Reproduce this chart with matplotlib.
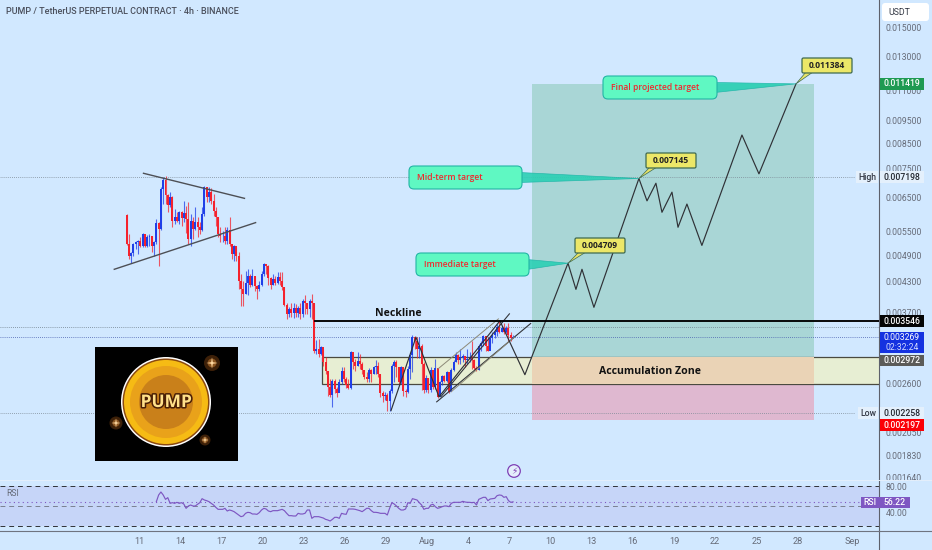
import numpy as np
import matplotlib
matplotlib.use("Agg")
import matplotlib.pyplot as plt
from matplotlib.patches import Rectangle, FancyBboxPatch, Polygon, Circle
from matplotlib.transforms import Affine2D
import matplotlib.patheffects as pe

W, H = 932, 550
plt.rcParams['font.family'] = ['Roboto', 'DejaVu Sans']

# 4h candles, x in days counted from Jul 1 = day 1
first_day = 10.1
first_open = 0.00597
closes = [
 .00517,.00487,.00494,.00517,.00522,.00525,.00512,.00543,.00512,.00535,.00538,.00512,.00522,.00574,.00557,.00678,.00709,.00659,.00627,.00652,
 .00579,.00591,.00579,.00605,.00588,.00603,.00585,.00530,.00579,.00557,.00577,.00562,.00554,.00600,.00685,.00652,.00668,.00640,.00608,.00591,
 .00543,.00538,.00538,.00525,.00554,.00517,.00492,.00512,.00487,.00431,.00414,.00404,.00428,.00442,.00424,.00442,.00420,.00414,.00424,.00446,
 .00470,.00464,.00437,.00424,.00435,.00428,.00440,.00431,.00418,.00383,.00366,.00375,.00368,.00377,.00368,.00377,.00366,.00390,.00388,.00375,
 .00390,.00388,.00305,.00308,.00301,.00311,.00290,.00277,.00256,.00246,.00264,.00253,.00248,.00262,.00277,.00266,.00258,.00255,.00304,.00290,
 .00284,.00291,.00287,.00278,.00269,.00266,.00278,.00273,.00282,.00284,.00273,.00248,.00245,.00246,.00239,.00251,.00284,.00290,.00282,.00262,
 .00282,.00251,.00250,.00280,.00299,.00327,.00321,.00308,.00313,.00287,.00252,.00268,.00252,.00278,.00256,.00281,.00244,.00262,.00270,.00264,
 .00275,.00250,.00278,.00290,.00299,.00292,.00295,.00298,.00292,.00294,.00295,.00292,.00281,.00278,.00313,.00318,.00329,.00313,.00306,.00326,
 .00331,.00335,.00344,.00336,.00343,.00335,.00343,.00330,.00326,.003269]
highs = [
 .00600,.00543,.00497,.00519,.00525,.00527,.00535,.00546,.00543,.00540,.00543,.00538,.00525,.00585,.00577,.00685,.00720,.00724,.00662,.00668,
 .00655,.00614,.00605,.00608,.00608,.00640,.00624,.00636,.00600,.00591,.00620,.00591,.00577,.00620,.00688,.00685,.00685,.00681,.00662,.00620,
 .00591,.00562,.00551,.00562,.00562,.00591,.00517,.00515,.00509,.00497,.00446,.00431,.00453,.00457,.00446,.00457,.00442,.00424,.00431,.00453,
 .00472,.00470,.00466,.00440,.00446,.00442,.00451,.00451,.00451,.00418,.00387,.00379,.00388,.00388,.00385,.00381,.00388,.00394,.00402,.00388,
 .00394,.00404,.00388,.00322,.00324,.00313,.00308,.00297,.00269,.00266,.00266,.00266,.00256,.00266,.00282,.00282,.00269,.00266,.00305,.00297,
 .00294,.00304,.00301,.00290,.00278,.00276,.00281,.00280,.00284,.00292,.00290,.00273,.00251,.00250,.00248,.00254,.00287,.00292,.00292,.00282,
 .00284,.00282,.00254,.00284,.00301,.00331,.00329,.00327,.00327,.00316,.00290,.00272,.00267,.00282,.00278,.00294,.00267,.00264,.00272,.00272,
 .00277,.00270,.00281,.00292,.00304,.00301,.00308,.00301,.00298,.00308,.00304,.00321,.00294,.00284,.00316,.00321,.00331,.00328,.00327,.00328,
 .00335,.00340,.00349,.00355,.00345,.00350,.00345,.00351,.00335,.00330]
lows = [
 .00515,.00480,.00472,.00487,.00506,.00492,.00509,.00509,.00509,.00509,.00512,.00497,.00487,.00517,.00464,.00554,.00630,.00630,.00605,.00620,
 .00562,.00571,.00577,.00571,.00565,.00577,.00546,.00517,.00512,.00530,.00554,.00535,.00543,.00551,.00594,.00636,.00636,.00630,.00594,.00565,
 .00535,.00522,.00522,.00517,.00517,.00512,.00480,.00475,.00475,.00414,.00381,.00381,.00404,.00402,.00418,.00420,.00410,.00394,.00410,.00420,
 .00442,.00446,.00424,.00414,.00424,.00424,.00426,.00424,.00412,.00381,.00357,.00362,.00362,.00359,.00361,.00361,.00357,.00362,.00366,.00366,
 .00362,.00357,.00302,.00301,.00297,.00299,.00284,.00273,.00245,.00244,.00232,.00248,.00244,.00250,.00260,.00262,.00255,.00254,.00254,.00280,
 .00277,.00284,.00280,.00273,.00266,.00262,.00262,.00262,.00273,.00273,.00269,.00244,.00238,.00240,.00228,.00227,.00248,.00262,.00269,.00258,
 .00260,.00245,.00244,.00248,.00266,.00276,.00308,.00295,.00295,.00252,.00248,.00250,.00249,.00250,.00254,.00254,.00243,.00255,.00259,.00262,
 .00262,.00248,.00260,.00277,.00289,.00287,.00287,.00290,.00282,.00287,.00290,.00280,.00278,.00277,.00278,.00306,.00313,.00306,.00305,.00313,
 .00318,.00326,.00329,.00334,.00335,.00332,.00334,.00321,.00321,.00326]

rsi = [56.5,66.5,71,66.5,60,62.5,54,55,54,55.5,54,55,53,46.5,50,51.5,50,50,52.5,55,61,59,58,56.5,54,51.5,48,45,45,45,46.5,42.5,44,43,41.5,39,36.5,34,35,39,
 40.5,40,38,38,37.5,40,44,46.5,45.5,42.5,41.5,43,43,43,44,45,43,39,35.5,35.5,35,35,39,38,38,39,44,44,31.5,34,34,34,33,32,30,29,27.5,30,33,33,31.5,39,38,37.5,
 45.5,45.5,45.5,45,44,43,41.5,44,46.5,46.5,43,40.5,40.5,40,39,39,39,36.5,46.5,55,53,50,46.5,44,44,45.5,55,54,61,60,59,55,51.5,45,46.5,46.5,51.5,52.5,49,46.5,
 47.5,49,50,50,49,54,55.5,55.5,55.5,55.5,57,56,55.5,55.5,55,55.5,51.5,60,61.5,63,63,58,60.5,61,61.5,65.5,66.5,66,63,64,58,55.5,56.22]

# projected path drawn on the chart
path_days = [29.37,31.19,32.87,37.31,39.13,42.27,42.85,43.29,44.16,47.44,48.03,48.68,49.12,49.85,50.29,50.94,52.03,54.95,56.19,58.89]
path_prices = [.00228,.00327,.00244,.003546,.00272,.004709,.00414,.00457,.00379,.007145,.0064,.00698,.00605,.00668,.00562,.0063,.00514,.00885,.00731,.011384]

price_ticks = [.015,.013,.011,.0095,.0085,.0075,.0065,.0055,.0049,.0043,.0037,.0026,.00205,.00183,.00164]
price_labels = ['%.6f' % p for p in price_ticks]
date_ticks = [11,14,17,20,23,26,29,32,35,38,41,44,47,50,53,56,59,63]
date_labels = ['11','14','17','20','23','26','29','Aug','4','7','10','13','16','19','22','25','28','Sep']

neckline = 0.003546
last_price = 0.003269
high = 0.007198
low = 0.002258
upper_dotted = 0.00344
zone_top, zone_bottom = 0.00297, 0.00260
target_top, stop_bottom = 0.01138, 0.00218
pos_left, pos_right = 39.64, 60.2
zone_left = 24.34
neck_left = 23.83

BG = '#d1e8ff'
GREY = '#666b78'
px = Affine2D().scale(1, -1).translate(0, H)

fig = plt.figure(figsize=(W/100, H/100), dpi=100, facecolor=BG)
ax = fig.add_axes([0, 1-480/H, 879/W, 480/H], facecolor=BG)
ax2 = fig.add_axes([0, 1-531/H, 879/W, 51/H], facecolor=BG, sharex=ax)

ax.set_yscale('log')
ax.set_xlim(0.87, 64.94)
ax.set_ylim(0.00162, 0.0172)

# long / short position boxes and the zone
ax.add_patch(Rectangle((pos_left, zone_top), pos_right-pos_left, target_top-zone_top, fc='#a9d6d6', ec='none', zorder=1))
ax.add_patch(Rectangle((pos_left, stop_bottom), pos_right-pos_left, zone_bottom-stop_bottom, fc='#dfb8d0', ec='none', zorder=1))
ax.add_patch(Rectangle((zone_left, zone_bottom), 70-zone_left, zone_top-zone_bottom, fc='#e7eed3', ec='#4a4a40', lw=0.9, zorder=1.2))
ax.add_patch(Rectangle((pos_left, zone_bottom), pos_right-pos_left, zone_top-zone_bottom, fc='#ead3b6', ec='none', zorder=1.3))

# dotted levels
ax.plot([0, 63.1], [high, high], color='#7d8a96', lw=0.6, ls=(0, (1, 1.5)), zorder=1.5)
ax.plot([0, 63.1], [low, low], color='#7d8a96', lw=0.6, ls=(0, (1, 1.5)), zorder=1.5)
ax.axhline(upper_dotted, color='#6f7f8c', lw=0.6, ls=(0, (1, 1.5)), zorder=1.5)
ax.axhline(last_price, color='#4a5fb0', lw=0.6, ls=(0, (1, 1.5)), zorder=1.5)

# candles
opens = [first_open] + closes[:-1]
days = first_day + np.arange(len(closes)) / 6
colors = ['#1f3fe8' if c >= o else '#f5222d' for o, c in zip(opens, closes)]
ax.vlines(days, lows, highs, colors=colors, lw=0.8, alpha=0.75, zorder=3)
bottoms = np.minimum(opens, closes)
heights = np.abs(np.array(closes) - np.array(opens))
ax.bar(days, heights, bottom=bottoms, width=0.145, color=colors, lw=0, zorder=3)

# drawn trend lines
ax.plot([11.33, 18.69], [.00733, .00648], color='#4d4f55', lw=1.0, zorder=4)
ax.plot([9.2, 19.5], [.00457, .00575], color='#4d4f55', lw=1.0, zorder=4)
ax.plot([32.7, 39.55], [.00238, .00350], color='#33353a', lw=0.8, zorder=4)
ax.plot([33.0, 38.0], [.00244, .00367], color='#33353a', lw=0.8, zorder=4)
ax.plot([32.8, 37.2], [.00280, .00358], color='#8d8a78', lw=0.7, zorder=4)
ax.plot([33.75, 38.35], [.00250, .00327], color='#8d8a78', lw=0.7, zorder=4)
ax.plot(path_days, path_prices, color='#2f3136', lw=0.85, zorder=4)
ax.plot([neck_left, 70], [neckline, neckline], color='black', lw=1.35, zorder=4)

ax.set_yticks(price_ticks)
ax.set_yticklabels(price_labels)
ax.yaxis.set_minor_locator(matplotlib.ticker.NullLocator())
ax.yaxis.tick_right()
ax.tick_params(axis='y', length=0, pad=4.6, labelsize=6.2, labelcolor=GREY)
ax.tick_params(axis='x', length=0, labelbottom=False)
for s in ['top', 'left', 'bottom']:
    ax.spines[s].set_visible(False)
ax.spines['right'].set_color('#5d606b')
ax.spines['right'].set_linewidth(0.8)

# RSI pane
ax2.set_ylim(12.5, 89)
rsi_days = days[-len(rsi):]
ax2.axhspan(20, 80, color='#c6d5f8', lw=0, zorder=1)
for lvl, c in [(80, '#2f3136'), (50, '#7a8190'), (20, '#2f3136')]:
    ax2.axhline(lvl, color=c, lw=0.7, ls=(0, (5, 4)), zorder=2)
ax2.axhline(rsi[-1], color='#7e57c2', lw=0.8, ls=(0, (1, 3)), zorder=2)
ax2.plot(rsi_days, rsi, color='#7e57c2', lw=0.85, zorder=3)
ax2.set_yticks([40, 80])
ax2.set_yticklabels(['40.00', '80.00'])
ax2.yaxis.tick_right()
ax2.tick_params(axis='y', length=0, pad=4.6, labelsize=6.2, labelcolor=GREY)
ax2.set_xticks(date_ticks)
ax2.set_xticklabels(date_labels)
ax2.tick_params(axis='x', length=0, pad=4.5, labelsize=6.6, labelcolor=GREY)
for s in ['top', 'left']:
    ax2.spines[s].set_visible(False)
ax2.spines['right'].set_color('#5d606b')
ax2.spines['right'].set_linewidth(0.8)
ax2.spines['bottom'].set_color('#6f7480')
ax2.spines['bottom'].set_linewidth(0.8)
fig.add_artist(plt.Line2D([0, W], [480, 480], color='#e4effb', lw=0.7, transform=px))
fig.add_artist(plt.Line2D([879, 879], [531, 550], color='#5d606b', lw=0.8, transform=px))
fig.add_artist(plt.Line2D([879, W], [531, 531], color='#6f7480', lw=0.8, transform=px))


def to_px(day, price):
    x, y = ax.transData.transform((day, price))
    return x, H - y


def label(x, y, s, **kw):
    kw.setdefault('va', 'center')
    kw.setdefault('zorder', 8)
    fig.text(x, y, s, transform=px, **kw)


def badge(x0, x1, y0, y1, fc, txt=None, color='white', round_=False):
    if round_:
        p = FancyBboxPatch((x0+2, y0+2), x1-x0-4, y1-y0-4, boxstyle='round,pad=2,rounding_size=3', fc=fc, ec='none', transform=px, zorder=7)
    else:
        p = Rectangle((x0, y0), x1-x0, y1-y0, fc=fc, ec='none', transform=px, zorder=7)
    fig.add_artist(p)
    if txt:
        label((x0+x1)/2, (y0+y1)/2+0.3, txt, color=color, fontsize=6.2, ha='center', fontweight='medium')


def callout(x0, x1, y0, y1, tip_day, tip_price, txt):
    tx, ty = to_px(tip_day, tip_price)
    cy = (y0+y1)/2
    fig.add_artist(Polygon([(x1-2, cy-5), (tx, ty), (x1-2, cy+5)], closed=True, fc='#2bd0b4', ec='#20b5a8', lw=0.5, alpha=0.9, transform=px, zorder=5))
    fig.add_artist(FancyBboxPatch((x0+4, y0+4), x1-x0-8, y1-y0-8, boxstyle='round,pad=4,rounding_size=5', fc='#5ff8c2', ec='#22b5a5', lw=0.8, transform=px, zorder=5))
    label(x0+8, cy, txt, color='#f0282e', fontsize=6.1, fontweight='semibold', family=['Open Sans', 'DejaVu Sans'])


def price_tag(x0, x1, y0, y1, tip_day, tip_price, txt):
    tx, ty = to_px(tip_day, tip_price)
    fig.add_artist(Polygon([(x0+4, y1-1), (tx, ty), (x0+11, y1-1)], closed=True, fc='#e8e468', ec='#3f6a50', lw=0.5, transform=px, zorder=6))
    fig.add_artist(FancyBboxPatch((x0+1, y0+1), x1-x0-2, y1-y0-2, boxstyle='round,pad=1,rounding_size=1.5', fc='#ece768', ec='#3f6a50', lw=0.9, transform=px, zorder=6))
    label((x0+x1)/2, (y0+y1)/2+0.3, txt, color='#222222', fontsize=6.1, ha='center', fontweight='bold', family=['Open Sans', 'DejaVu Sans'])


# titles and chart text
label(6, 12, 'PUMP / TetherUS PERPETUAL CONTRACT · 4h · BINANCE', color='#4a4f5c', fontsize=6.5, fontweight='medium')
label(6, 493, 'RSI', color=GREY, fontsize=6.2)
label(398, 314, 'Neckline', color='#111111', fontsize=7.6, ha='center', fontweight='bold', family=['Open Sans', 'DejaVu Sans'])
label(650, 372, 'Accumulation Zone', color='#111111', fontsize=7.6, ha='center', fontweight='bold', family=['Open Sans', 'DejaVu Sans'])

callout(603, 717, 76, 99, path_days[-1], path_prices[-1], 'Final projected target')
callout(409, 522, 166, 189, path_days[9], path_prices[9], 'Mid-term target')
callout(416, 529, 253, 276, path_days[5], path_prices[5], 'Immediate target')
price_tag(802, 852, 58, 73, path_days[-1], path_prices[-1], '0.011384')
price_tag(646, 696, 153, 168, path_days[9], path_prices[9], '0.007145')
price_tag(575, 625, 238, 253, path_days[5], path_prices[5], '0.004709')

# right side badges
badge(882, 929, 3, 21, 'white', round_=True)
label(888, 12.5, 'USDT', color='#333844', fontsize=6.3)
badge(880, 924, 77.5, 89.5, '#1f9a52', '0.011419')
badge(856, 878, 171, 183, '#e4f0fc', 'High', color='#333844')
badge(880, 924, 171, 183, '#e4f0fc', '0.007198', color='#20242c')
badge(880, 924, 315, 327, '#050505', '0.003546')
badge(880, 924, 332, 353, '#1432e0')
label(902, 338, '0.003269', color='white', fontsize=6.2, ha='center')
label(902, 347.5, '02:32:24', color='#d5dcff', fontsize=6.2, ha='center')
badge(880, 924, 355, 366, '#5b5b58', '0.002972')
badge(858, 878, 407, 419, '#e4f0fc', 'Low', color='#333844')
badge(880, 924, 407, 419, '#e4f0fc', '0.002258', color='#20242c')
badge(880, 924, 419, 431, '#fb0006', '0.002197')
badge(861, 879, 497, 508, '#7e57c2', 'RSI')
badge(879, 910, 497, 508, '#7e57c2', '56.22')

# coin logo
fig.add_artist(Rectangle((95, 347), 143, 114, fc='black', ec='none', transform=px, zorder=5))
coin = (166, 402)
for r, c in [(45, 'white'), (43.5, '#8a4a10'), (42, '#f6bb14'), (36, '#e9a21a'), (27, '#c9801a')]:
    fig.add_artist(Circle(coin, r, fc=c, ec='none', transform=px, zorder=5.2))
label(166, 402, 'PUMP', color='#ffe08a', fontsize=12.5, ha='center', fontweight='bold', family=['Open Sans', 'DejaVu Sans'],
      path_effects=[pe.withStroke(linewidth=2.2, foreground='#4a1f05')])
for (sx, sy), r in zip([(212, 363), (116, 423), (205, 440)], [8, 6.5, 5.5]):
    fig.add_artist(Circle((sx, sy), r, fc='#3d2008', ec='none', transform=px, zorder=5.2))
    fig.add_artist(Circle((sx, sy), r*0.55, fc='#8a5420', ec='none', transform=px, zorder=5.3))
    fig.add_artist(Polygon([(sx-r*0.7, sy), (sx, sy-r*0.12), (sx+r*0.7, sy), (sx, sy+r*0.12)], fc='#ffd9a0', ec='none', transform=px, zorder=5.4))
    fig.add_artist(Polygon([(sx, sy-r*0.7), (sx+r*0.12, sy), (sx, sy+r*0.7), (sx-r*0.12, sy)], fc='#ffd9a0', ec='none', transform=px, zorder=5.4))

# earnings flash marker
fig.add_artist(Circle((514, 471), 6.3, fc='#e4eefc', ec='#7e3fb5', lw=0.9, transform=px, zorder=5))
label(514, 471, '\u26a1', color='#7e3fb5', fontsize=6.5, ha='center', family=['DejaVu Sans'])

fig.savefig('out.png', dpi=100, facecolor=BG)
